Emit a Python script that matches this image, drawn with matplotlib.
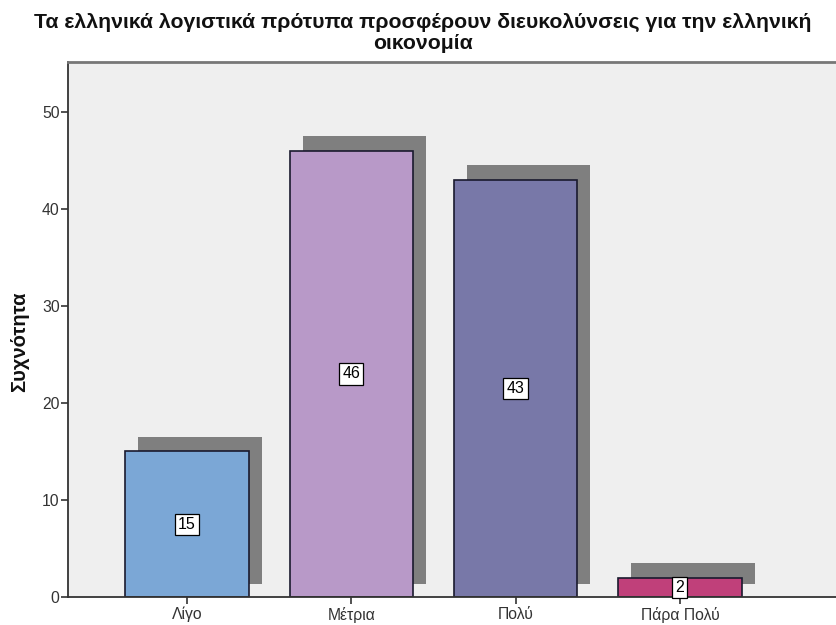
import matplotlib.pyplot as plt

plt.rcParams['font.family'] = ['Liberation Sans', 'DejaVu Sans']

categories = ['Λίγο', 'Μέτρια', 'Πολύ', 'Πάρα Πολύ']
counts = [15, 46, 43, 2]
colors = ['#7ba7d6', '#b899c8', '#7878a8', '#c0407a']
yticks = [0, 10, 20, 30, 40, 50]

fig = plt.figure(figsize=(8.36, 6.25), dpi=100)
ax = fig.add_axes([68 / 836, 28 / 625, 782 / 836, 535 / 625])
ax.set_facecolor('#efefef')

x = list(range(len(categories)))
width = 0.75

# drop shadows sit behind each bar, shifted up and to the right
ax.bar([i + 0.08 for i in x], [c + 0.15 for c in counts], width=width,
       bottom=1.35, color='#7f7f7f', linewidth=0, zorder=1)
ax.bar(x, counts, width=width, color=colors, edgecolor='#1a1a2e',
       linewidth=1.2, zorder=2)

for i, c in zip(x, counts):
    ax.text(i, c / 2, str(c), ha='center', va='center', fontsize=11.5,
            color='black', zorder=3,
            bbox=dict(boxstyle='square,pad=0.2', fc='white', ec='black', lw=0.9))

ax.set_xlim(-0.724, 4.035)
ax.set_ylim(0, 55.15)
ax.set_yticks(yticks)
ax.set_xticks(x)
ax.set_xticklabels(categories)
ax.tick_params(axis='both', direction='out', length=5, width=1.2,
               colors='#333333', labelsize=11.3, labelcolor='#333333')
ax.tick_params(axis='x', pad=2)
ax.tick_params(axis='y', pad=1)

for side in ['left', 'bottom']:
    ax.spines[side].set_color('#333333')
    ax.spines[side].set_linewidth(1.3)
ax.spines['top'].set_color('#777777')
ax.spines['top'].set_linewidth(2)
ax.spines['right'].set_visible(False)

fig.text(423 / 836, 1 - 33 / 625,
         'Τα ελληνικά λογιστικά πρότυπα προσφέρουν διευκολύνσεις για την ελληνική\nοικονομία',
         ha='center', va='center', fontsize=15.3, fontweight='bold',
         linespacing=1.15, color='#111111')
fig.text(20 / 836, 1 - 342 / 625, 'Συχνότητα', rotation=90, ha='center',
         va='center', fontsize=14.5, fontweight='bold', color='#111111')

fig.savefig('out.png', dpi=100, facecolor='white')
